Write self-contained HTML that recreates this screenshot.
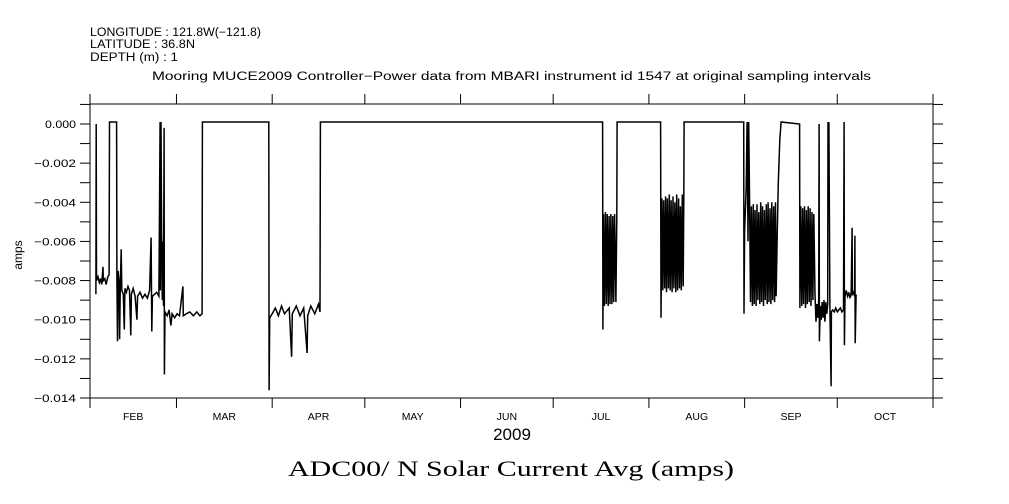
<!DOCTYPE html>
<html><head><meta charset="utf-8"><style>
body{margin:0;background:#fff}
svg{display:block;font-family:"Liberation Sans",sans-serif}
</style></head><body>
<svg id="chart" width="1009" height="504" viewBox="0 0 1009 504">
<g font-size="11.5" fill="#000">
<text x="90" y="36" textLength="171" lengthAdjust="spacingAndGlyphs">LONGITUDE : 121.8W(−121.8)</text>
<text x="90" y="48" textLength="105" lengthAdjust="spacingAndGlyphs">LATITUDE : 36.8N</text>
<text x="90" y="61" textLength="88" lengthAdjust="spacingAndGlyphs">DEPTH (m) : 1</text>
<text x="152" y="80" textLength="719" lengthAdjust="spacingAndGlyphs">Mooring MUCE2009 Controller−Power data from MBARI instrument id 1547 at original sampling intervals</text>
</g>
<g id="axes"></g>
<path id="series" fill="none" stroke="#000" stroke-width="1.5" stroke-linejoin="miter"/>
<text x="22" y="255" font-size="12" text-anchor="middle" transform="rotate(-90 22 255)">amps</text>
<text x="512" y="440" font-size="17" text-anchor="middle">2009</text>
<text x="511" y="476" font-size="22" text-anchor="middle" font-family="Liberation Serif, serif" textLength="446" lengthAdjust="spacingAndGlyphs">ADC00/ N Solar Current Avg (amps)</text>
</svg>
<script>
// days since Feb 1 2009
const monthStarts = [0, 28, 59, 89, 120, 150, 181, 212, 242, 273];
const monthLabels = ["FEB","MAR","APR","MAY","JUN","JUL","AUG","SEP","OCT"];
const yTicks = [0, -0.002, -0.004, -0.006, -0.008, -0.010, -0.012, -0.014];
const yTickLabels = ["0.000","−0.002","−0.004","−0.006","−0.008","−0.010","−0.012","−0.014"];
const days = [1.9,2.0,2.1,2.6,3.0,3.4,3.8,4.2,4.3,4.8,5.2,5.8,6.2,6.3,8.6,8.7,8.9,9.1,9.4,9.6,9.8,10.1,10.3,10.8,11.1,11.3,11.8,12.3,12.8,13.2,13.4,14.0,14.6,15.2,15.4,16.2,17.0,17.8,18.6,19.3,19.8,20.0,20.2,20.9,21.6,22.3,22.7,22.8,23.0,23.2,23.4,23.6,23.8,24.0,24.1,24.3,25.0,25.6,26.2,26.6,27.4,28.2,29.0,30.1,30.2,31.2,32.3,33.5,34.6,35.6,36.3,36.4,57.9,58.0,58.2,59.0,60.0,61.0,62.0,63.0,64.5,65.3,65.5,66.8,68.0,69.2,70.3,70.5,71.5,72.8,74.0,74.5,74.6,
166.0,166.1,166.3,166.6,166.9,167.2,167.5,167.8,168.1,168.4,168.7,169.0,169.3,169.6,169.9,170.3,170.6,170.7,
184.8,184.9,185.2,185.5,185.8,186.1,186.4,186.7,187.0,187.3,187.6,187.9,188.2,188.5,188.8,189.1,189.4,189.7,190.0,190.3,190.6,190.9,191.2,191.5,191.8,192.1,192.3,192.4,
211.7,211.8,212.0,212.5,212.8,213.1,213.3,213.6,213.9,214.2,214.5,214.8,215.1,215.4,215.7,216.0,216.3,216.6,216.9,217.2,217.5,217.8,218.1,218.4,218.7,219.0,219.3,219.6,219.9,220.2,220.5,220.8,221.1,221.4,221.7,222.0,222.2,222.5,222.9,223.4,223.8,229.8,
229.9,230.2,230.5,230.8,231.1,231.4,231.7,232.0,232.3,232.6,232.9,233.2,233.5,233.8,234.1,234.4,234.8,235.1,235.4,235.7,236.0,236.1,236.2,236.5,236.8,237.1,237.4,237.7,238.0,238.3,238.6,238.9,239.0,239.1,239.3,239.6,240.0,240.1,240.5,241.0,241.5,242.0,242.5,243.0,243.5,244.0,244.2,244.3,244.5,244.9,245.3,245.7,246.1,246.5,246.8,246.9,247.3,247.6,247.7,247.8,248.1];
const values = [-0.0087,0.0000,-0.0080,-0.0078,-0.0081,-0.0079,-0.0082,-0.0073,-0.0080,-0.0079,-0.0082,-0.0078,-0.0077,0.0001,0.0001,-0.0078,-0.0111,-0.0075,-0.0080,-0.0110,-0.0083,-0.0064,-0.0085,-0.0087,-0.0105,-0.0084,-0.0086,-0.0083,-0.0085,-0.0108,-0.0087,-0.0084,-0.0088,-0.0100,-0.0088,-0.0086,-0.0089,-0.0087,-0.0089,-0.0085,-0.0058,-0.0106,-0.0088,-0.0087,-0.0086,-0.0088,0.0001,-0.0085,0.0001,-0.0055,-0.0090,-0.0060,-0.0093,-0.0002,-0.0128,-0.0096,-0.0098,-0.0095,-0.0103,-0.0097,-0.0099,-0.0097,-0.0098,-0.0083,-0.0098,-0.0097,-0.0096,-0.0098,-0.0096,-0.0098,-0.0097,0.0001,0.0001,-0.0136,-0.0099,-0.0097,-0.0094,-0.0098,-0.0093,-0.0097,-0.0094,-0.0119,-0.0097,-0.0093,-0.0098,-0.0094,-0.0117,-0.0098,-0.0093,-0.0097,-0.0092,-0.0096,0.0001,
0.0001,-0.0105,-0.0046,-0.0093,-0.0045,-0.0092,-0.0046,-0.0093,-0.0047,-0.0092,-0.0046,-0.0092,-0.0047,-0.0091,-0.0046,-0.0091,-0.0048,0.0001,
0.0001,-0.0099,-0.0038,-0.0085,-0.0039,-0.0084,-0.0037,-0.0086,-0.0038,-0.0084,-0.0036,-0.0085,-0.0039,-0.0086,-0.0037,-0.0084,-0.0040,-0.0086,-0.0036,-0.0085,-0.0038,-0.0084,-0.0042,-0.0085,-0.0036,-0.0083,-0.0038,0.0001,
0.0001,-0.0097,-0.0055,-0.0032,0.0001,-0.0060,0.0001,-0.0040,-0.0091,-0.0042,-0.0093,-0.0041,-0.0092,-0.0044,-0.0093,-0.0041,-0.0090,-0.0045,-0.0092,-0.0040,-0.0091,-0.0042,-0.0093,-0.0044,-0.0090,-0.0041,-0.0092,-0.0040,-0.0091,-0.0043,-0.0092,-0.0040,-0.0090,-0.0042,-0.0091,-0.0040,-0.0088,-0.0060,-0.0030,-0.0008,0.0001,0.0000,
-0.0094,-0.0042,-0.0093,-0.0043,-0.0092,-0.0042,-0.0094,-0.0044,-0.0092,-0.0042,-0.0091,-0.0043,-0.0093,-0.0045,-0.0090,-0.0046,-0.0087,-0.0101,-0.0092,-0.0099,-0.0090,0.0000,-0.0111,-0.0093,-0.0100,-0.0091,-0.0099,-0.0090,-0.0101,-0.0091,-0.0097,-0.0092,0.0001,-0.0020,0.0001,-0.0094,-0.0134,-0.0096,-0.0095,-0.0096,-0.0094,-0.0096,-0.0095,-0.0094,-0.0096,-0.0095,0.0001,-0.0113,-0.0088,-0.0085,-0.0088,-0.0086,-0.0089,-0.0086,-0.0053,-0.0087,-0.0086,-0.0088,-0.0057,-0.0112,-0.0087];

const L=90,R=933,T=104,B=398;
const xS=d=>L+(d-0)/(273-0)*(R-L);
const yS=v=>124+(0-v)/0.014*(398-124);
const NS='http://www.w3.org/2000/svg';
const ax=document.getElementById('axes');
function add(tag,attrs,parent){const e=document.createElementNS(NS,tag);for(const k in attrs)e.setAttribute(k,attrs[k]);(parent||ax).appendChild(e);return e;}
const frame=add('rect',{x:L,y:T,width:R-L,height:B-T,fill:'none',stroke:'#000','stroke-width':1});


for(let i=-14;i<=1;i++){
  const y=yS(i/1000);
  const t1=add('line',{x1:L-10,x2:L,y1:y,y2:y,stroke:'#000'});
  
  
  const t2=add('line',{x1:R,x2:R+10,y1:y,y2:y,stroke:'#000'});
  
  
}
yTicks.forEach((v,i)=>{
  const neg=yTickLabels[i].length>5;
  const t=add('text',{x:neg?34:45,y:yS(v)+4,'font-size':11,textLength:neg?42:31,lengthAdjust:'spacingAndGlyphs'});
  t.textContent=yTickLabels[i];
  
  
});
monthStarts.forEach(d=>{
  const x=xS(d);
  const a=add('line',{x1:x,x2:x,y1:T-10,y2:T,stroke:'#000'});
  
  
  const b=add('line',{x1:x,x2:x,y1:B,y2:B+10,stroke:'#000'});
  
  
});
monthLabels.forEach((m,i)=>{
  const t=add('text',{x:(xS(monthStarts[i])+xS(monthStarts[i+1]))/2,y:420,'font-size':10.5,'text-anchor':'middle'});
  t.textContent=m;
  
  
});
let d='';
days.forEach((dd,i)=>{d+=(i?'L':'M')+xS(dd).toFixed(1)+' '+yS(values[i]).toFixed(1);});
document.getElementById('series').setAttribute('d',d);
</script>
</body></html>
